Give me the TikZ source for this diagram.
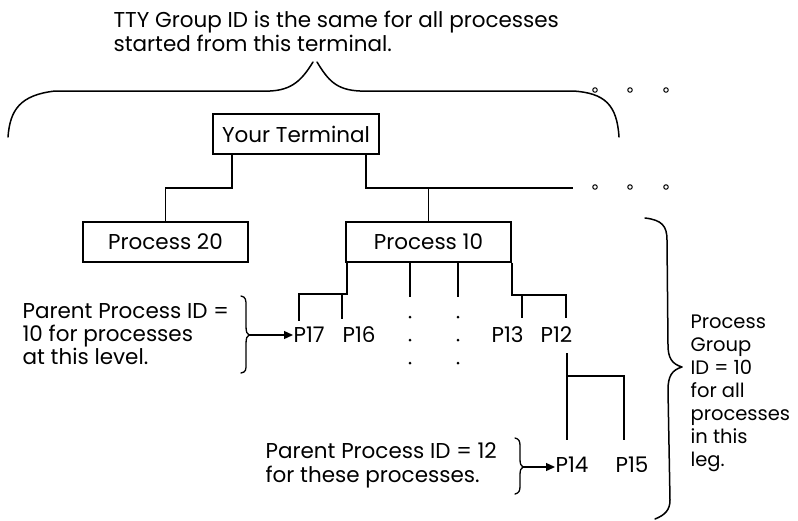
\documentclass[tikz,border=0pt]{standalone}
\usepackage{fontspec}
\setmainfont{Poppins}
\usetikzlibrary{arrows.meta}
\begin{document}
\begin{tikzpicture}[x=1pt,y=-1pt,
  line width=1.2pt,
  lbl/.style={anchor=base west,inner sep=0pt,font=\fontsize{21.5}{24}\selectfont},
  sidelbl/.style={lbl,font=\fontsize{19.5}{23}\selectfont},
  procbox/.style={draw,line width=1.3pt,inner sep=0pt,font=\fontsize{21.5}{24}\selectfont},
  wire/.style={line width=1.3pt},
  brc/.style={line width=1.5pt,line join=round,line cap=round},
  ptr/.style={line width=1.3pt,-{Triangle[length=9pt,width=8pt]}},
  ring/.style={draw,line width=1pt,circle,inner sep=0pt,minimum size=4.5pt},
  dot/.style={fill,circle,inner sep=0pt,minimum size=3pt}]
\useasboundingbox (0,0) rectangle (798,520);

% caption over the whole group
\node[lbl] (tty1) at (113,27) {TTY Group ID is the same for all processes};
\node[lbl] (tty2) at (113,51) {started from this terminal.};

% long brace under the caption
\coordinate (bl) at (8,137);
\coordinate (br) at (619,137);
\coordinate (tipl) at (313,62);
\coordinate (tipr) at (317,62);
\draw[brc] (bl) .. controls (10,110) and (20,95) .. (55,91) -- (270,91)
  .. controls (292,90) and (302,80) .. (tipl);
\draw[brc] (tipr) .. controls (328,80) and (336,90) .. (360,91) -- (573,91)
  .. controls (605,93) and (617,105) .. (br);

% trailing dots
\foreach \i/\x in {1/595,2/630,3/666}{
  \node[ring] (ua\i) at (\x,90) {};
  \node[ring] (ub\i) at (\x,187) {};
}

% boxes
\node[procbox,minimum width=166pt,minimum height=40pt] (term) at (296,134) {Your Terminal};
\node[procbox,minimum width=165pt,minimum height=40pt] (p20) at (165.5,242) {Process 20};
\node[procbox,minimum width=165pt,minimum height=40pt] (p10) at (428.5,242) {Process 10};

% terminal to its processes
\coordinate (tl) at (232,188);
\coordinate (tr) at (366,188);
\coordinate (tend) at (573,188);
\draw[wire] (term.south -| tl) -- (tl) -| (p20.north);
\draw[wire] (term.south -| tr) -- (tr) -- (tend);
\draw[wire] (p10.north |- tr) -- (p10.north);

% children of Process 10
\node[lbl] (p17) at (293,342) {P17};
\node[lbl] (p16) at (342,342) {P16};
\node[lbl] (p13) at (491,342) {P13};
\node[lbl] (p12) at (540,342) {P12};

\coordinate (la) at (347,294);
\coordinate (lb) at (299,294);
\coordinate (lc) at (342,294);
\draw[wire] (p10.south -| la) -- (la) -- (lb) -- (299,321);
\draw[wire] (lc) -- (342,319);
\draw[wire] (p10.south -| 410,0) -- (410,297);
\draw[wire] (p10.south -| 458,0) -- (458,297);
\coordinate (ra) at (512,295);
\coordinate (rb) at (566,295);
\coordinate (rc) at (522,295);
\draw[wire] (p10.south -| ra) -- (ra) -- (rb) -- (566,318);
\draw[wire] (rc) -- (522,318);

\foreach \c/\x in {a/410,b/458}
  \foreach \r/\y in {1/317,2/340,3/363}
    \node[dot] (d\c\r) at (\x,\y) {};

% children of P12
\node[lbl] (p14) at (555,472) {P14};
\node[lbl] (p15) at (615,472) {P15};
\coordinate (qa) at (567,353);
\coordinate (qb) at (567,376);
\coordinate (qc) at (624,376);
\draw[wire] (qa) -- (567,440);
\draw[wire] (qb) -- (qc) -- (624,440);

% note on the first level
\node[lbl] (n1a) at (22,318) {Parent Process ID =};
\node[lbl] (n1b) at (22,341) {10 for processes};
\node[lbl] (n1c) at (22,364) {at this level.};
\coordinate (b1) at (249,335);
\draw[brc,line width=1.3pt] (241,296) .. controls (246,297) and (246,300) .. (246,306) -- (246,326)
  .. controls (246,332) and (247,334) .. (b1)
  .. controls (247,336) and (246,338) .. (246,344) -- (246,364)
  .. controls (246,370) and (246,372) .. (241,373);
\draw[ptr] (b1) -- (p17.west |- b1);

% note on P12's children
\node[lbl] (n2a) at (265,458) {Parent Process ID = 12};
\node[lbl] (n2b) at (265,482) {for these processes.};
\coordinate (b2) at (523,467);
\draw[brc,line width=1.3pt] (515,438) .. controls (519,439) and (520,441) .. (520,446) -- (520,459)
  .. controls (520,464) and (521,466) .. (b2)
  .. controls (521,468) and (520,470) .. (520,475) -- (520,486)
  .. controls (520,491) and (519,493) .. (515,494);
\draw[ptr] (b2) -- (p14.west |- b2);

% brace over the whole leg
\coordinate (b3) at (682,367);
\draw[brc] (645,218) .. controls (662,220) and (667,226) .. (667,240) -- (668,345)
  .. controls (668,358) and (672,364) .. (b3)
  .. controls (672,370) and (668,376) .. (668,390) -- (670,500)
  .. controls (670,510) and (665,515) .. (655,519);
\node[sidelbl] (g1) at (690,328) {Process};
\node[sidelbl] (g2) at (690,351) {Group};
\node[sidelbl] (g3) at (690,374) {ID = 10};
\node[sidelbl] (g4) at (690,397) {for all};
\node[sidelbl] (g5) at (690,420) {processes};
\node[sidelbl] (g6) at (690,443) {in this};
\node[sidelbl] (g7) at (690,466) {leg.};
\end{tikzpicture}
\end{document}
